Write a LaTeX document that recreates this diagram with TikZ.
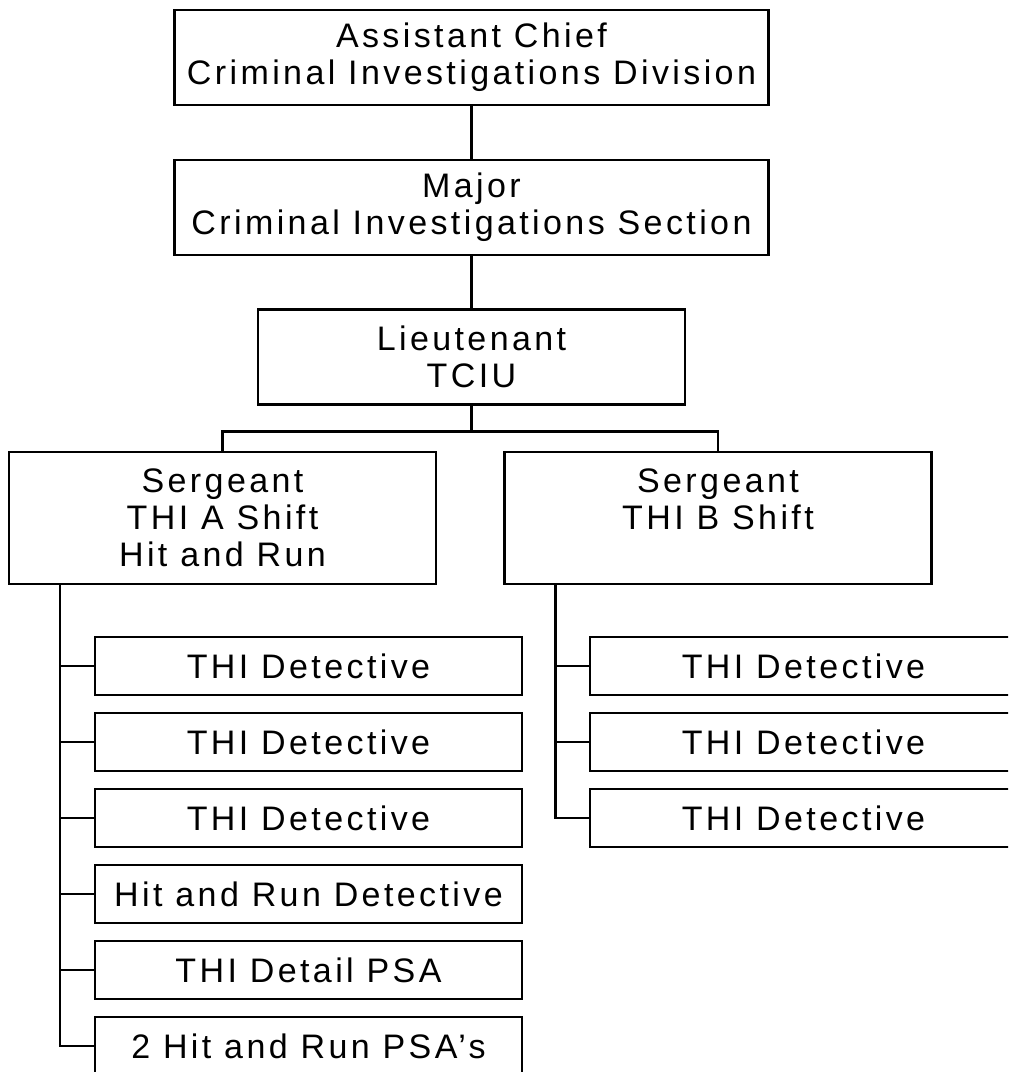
\documentclass[tikz,border=0pt]{standalone}
\usepackage{fontspec}
\setmainfont{Liberation Sans}[LetterSpace=10]
\usetikzlibrary{positioning, calc}

\begin{document}
\begin{tikzpicture}[
    orgbox/.style={
        draw, rectangle, line width=1.1pt, fill=white,
        minimum width=213.5pt, minimum height=47.5pt, align=center,
        inner sep=2pt
    },
    headbox/.style={orgbox, minimum width=297pt},
    sgtbox/.style={orgbox, minimum height=66pt},
    detbox/.style={orgbox, minimum height=29pt},
    every node/.style={font=\fontsize{17}{18.5}\selectfont},
    link/.style={line width=1.1pt},
    x=1pt, y=1pt,
]

\useasboundingbox (0,0) rectangle (504,-536);
\clip (0,0) rectangle (504,-536);

% chain of command
\node[headbox] (chief) at (235.75,-28.75) {Assistant Chief\\Criminal Investigations Division};
\node[headbox, below=26.5pt of chief] (major) {Major\\Criminal Investigations Section};
\node[orgbox, below=26pt of major] (lt) {Lieutenant\\TCIU};

% the two shifts
\node[sgtbox] (sgtA) at (111.25,-259) {Sergeant\\THI A Shift\\Hit and Run};
\node[sgtbox] (sgtB) at (359,-259) {Sergeant\\THI B Shift\\~};

% A shift squad
\node[detbox] (detA1) at (154.25,-333) {THI Detective};
\node[detbox] (detA2) at (154.25,-371) {THI Detective};
\node[detbox] (detA3) at (154.25,-409) {THI Detective};
\node[detbox] (detA4) at (154.25,-447) {Hit and Run Detective};
\node[detbox] (detA5) at (154.25,-485) {THI Detail PSA};
\node[detbox] (detA6) at (154.25,-523) {2 Hit and Run PSA's};

% B shift squad
\node[detbox] (detB1) at (401.75,-333) {THI Detective};
\node[detbox] (detB2) at (401.75,-371) {THI Detective};
\node[detbox] (detB3) at (401.75,-409) {THI Detective};

\coordinate (bar) at ($(lt.south)+(0,-13)$);
\coordinate (spineA) at ($(sgtA.south west)+(26,0)$);
\coordinate (spineB) at ($(sgtB.south west)+(26,0)$);

\draw[link] (chief) -- (major);
\draw[link] (major) -- (lt);
\draw[link] (lt) -- (bar);
\draw[link] (bar) -| (sgtA);
\draw[link] (bar) -| (sgtB);

\draw[link] (spineA) |- (detA6);
\draw[link] (detA1) -- (detA1 -| spineA);
\draw[link] (detA2) -- (detA2 -| spineA);
\draw[link] (detA3) -- (detA3 -| spineA);
\draw[link] (detA4) -- (detA4 -| spineA);
\draw[link] (detA5) -- (detA5 -| spineA);

\draw[link] (spineB) |- (detB3);
\draw[link] (detB1) -- (detB1 -| spineB);
\draw[link] (detB2) -- (detB2 -| spineB);
\end{tikzpicture}
\end{document}
